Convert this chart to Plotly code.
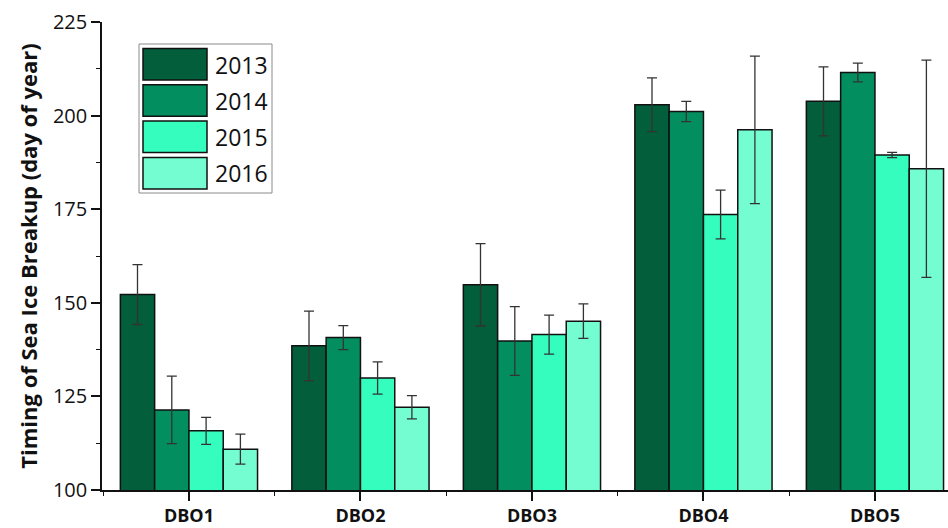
import plotly.graph_objects as go

# Sea ice breakup timing (day of year) at each DBO site, by year
sites = ["DBO1", "DBO2", "DBO3", "DBO4", "DBO5"]
years = ["2013", "2014", "2015", "2016"]

breakup_2013 = [152.2, 138.5, 154.8, 202.9, 203.8]
breakup_2014 = [121.4, 140.7, 139.8, 201.1, 211.5]
breakup_2015 = [115.8, 129.9, 141.5, 173.6, 189.5]
breakup_2016 = [110.9, 122.1, 145.1, 196.2, 185.8]

err_2013 = [8.0, 9.3, 11.0, 7.2, 9.2]
err_2014 = [9.0, 3.2, 9.2, 2.7, 2.5]
err_2015 = [3.6, 4.3, 5.2, 6.5, 0.7]
err_2016 = [4.0, 3.1, 4.6, 19.7, 29.0]

y_ticks = [100, 125, 150, 175, 200, 225]

values = [breakup_2013, breakup_2014, breakup_2015, breakup_2016]
errors = [err_2013, err_2014, err_2015, err_2016]
colors = ["#035e3c", "#038e60", "#35fdbd", "#74fdd1"]

W, H = 948, 528
ML, MR, MT, MB = 102, 0, 22, 38
PW, PH = W - ML - MR, H - MT - MB

x_pos = list(range(len(sites)))

fig = go.Figure()
for yr, vals, errs, col in zip(years, values, errors, colors):
    fig.add_trace(go.Bar(
        x=x_pos, y=vals, name=yr,
        marker=dict(color=col, line=dict(color="#111111", width=1.5)),
        error_y=dict(type="data", array=errs, visible=True,
                     color="#333333", thickness=1.3, width=5),
        showlegend=False,
    ))


def px_x(px):
    return (px - ML) / PW


def px_y(py):
    return (H - MB - py) / PH


# Legend drawn as a boxed panel with large swatches
shapes = [dict(type="rect", xref="paper", yref="paper",
               x0=px_x(139), x1=px_x(272), y0=px_y(193), y1=px_y(44),
               line=dict(color="#8a8a8a", width=1), fillcolor="white", layer="above")]
annotations = []
for i, (yr, col) in enumerate(zip(years, colors)):
    top = 48.5 + i * 36.3
    shapes.append(dict(type="rect", xref="paper", yref="paper",
                       x0=px_x(143), x1=px_x(207), y0=px_y(top + 31.5), y1=px_y(top),
                       line=dict(color="#111111", width=1.5), fillcolor=col, layer="above"))
    annotations.append(dict(xref="paper", yref="paper", x=px_x(213), y=px_y(top + 16),
                            text=yr, showarrow=False, xanchor="left", yanchor="middle",
                            font=dict(family="Open Sans", size=23, color="#111111")))

fig.update_layout(
    width=W, height=H,
    margin=dict(l=ML, r=MR, t=MT, b=MB, pad=0),
    paper_bgcolor="white", plot_bgcolor="white",
    barmode="group", bargap=0.2, bargroupgap=0,
    shapes=shapes, annotations=annotations,
    font=dict(family="Open Sans", color="#111111"),
)

fig.update_xaxes(
    range=[-0.507, -0.507 + PW / 171.5],
    tickmode="array", tickvals=x_pos, ticktext=sites,
    tickfont=dict(family="Open Sans", size=18, color="#111111", weight="bold"),
    ticks="outside", ticklen=9, tickwidth=1.5, tickcolor="#111111",
    showline=True, linecolor="#111111", linewidth=1.5,
    showgrid=False, zeroline=False,
    minor=dict(tickmode="array", tickvals=[i + 0.5 for i in x_pos[:-1]] + [-0.5],
               ticks="outside", ticklen=4, tickwidth=1.3, tickcolor="#111111"),
)

fig.update_yaxes(
    range=[100, 225],
    tickmode="array", tickvals=y_ticks,
    tickfont=dict(family="Open Sans", size=20, color="#111111"),
    ticks="outside", ticklen=9, tickwidth=1.5, tickcolor="#111111",
    showline=True, linecolor="#111111", linewidth=1.5,
    showgrid=False, zeroline=False,
    minor=dict(dtick=12.5, tick0=100, ticks="outside", ticklen=4,
               tickwidth=1.3, tickcolor="#111111"),
    title=dict(text="Timing of Sea Ice Breakup (day of year)",
               font=dict(family="Open Sans", size=22, color="#111111", weight="bold"),
               standoff=9),
)

fig.write_html("out.html")
